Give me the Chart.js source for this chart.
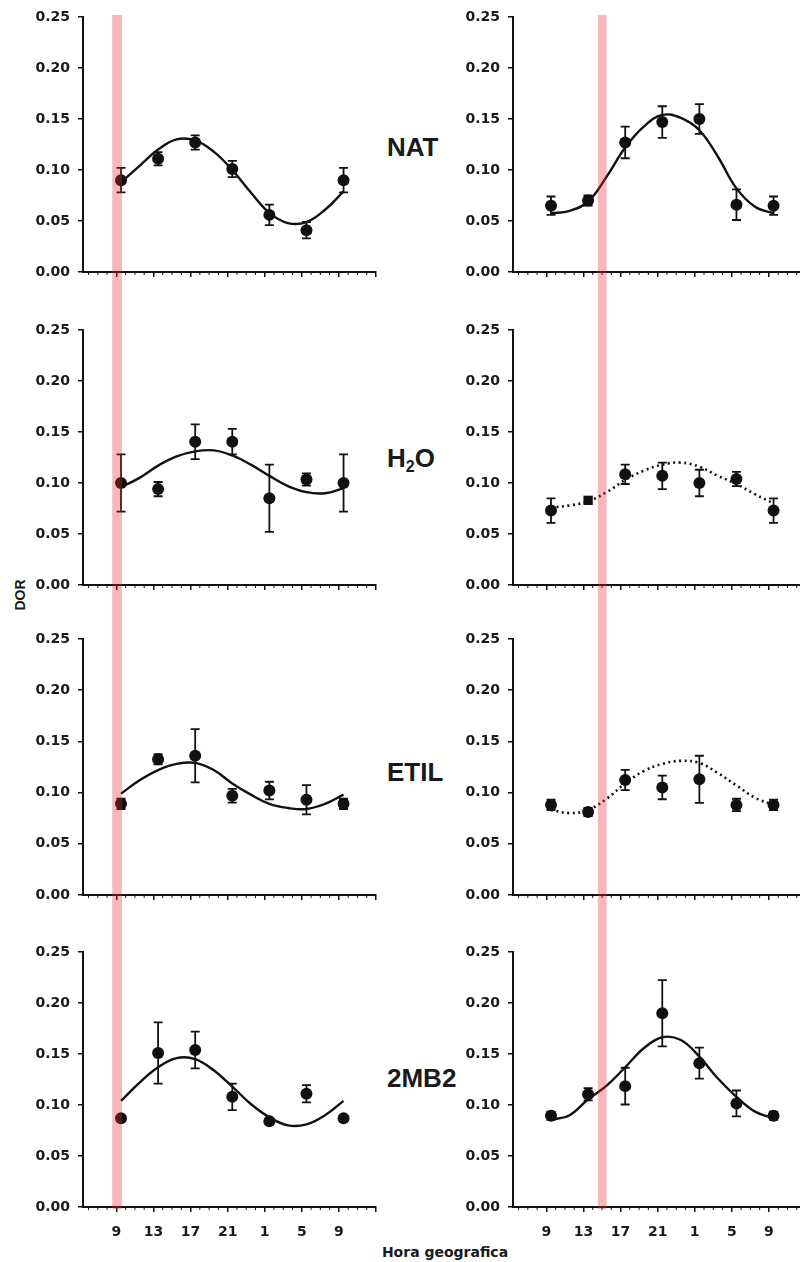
<!DOCTYPE html>
<html>
<head>
<meta charset="utf-8">
<script src="https://cdn.jsdelivr.net/npm/chart.js@4.4.1/dist/chart.umd.min.js"></script>
<style>
  html, body { margin: 0; padding: 0; background: #fff; width: 800px; height: 1262px; overflow: hidden; }
  #page { position: relative; width: 800px; height: 1262px; overflow: hidden; }
  .panel { position: absolute; }
  .name { position: absolute; left: 387px; font-family: "Liberation Sans", Arial, sans-serif; font-weight: bold;
          font-size: 26px; line-height: 1; color: #1a1a1a; transform: translateY(-50%); white-space: nowrap; }
  .name sub { font-size: 16px; vertical-align: -5px; }
  .axis-title { position: absolute; font-weight: bold; color: #1a1a1a; white-space: nowrap; line-height: 1; }
</style>
</head>
<body>
<div id="page">
  <div class="axis-title" style="left:20px;top:595px;font-family:'Liberation Sans',Arial,sans-serif;font-size:14px;transform:translate(-50%,-50%) rotate(-90deg);">DOR</div>
  <div class="axis-title" style="left:445px;top:1252px;font-family:'DejaVu Sans',sans-serif;font-size:14px;transform:translate(-50%,-50%);">Hora geografica</div>
  <div class="name" style="top:147px;">NAT</div>
  <div class="name" style="top:460px;">H<sub>2</sub>O</div>
  <div class="name" style="top:772px;">ETIL</div>
  <div class="name" style="top:1078px;">2MB2</div>
</div>
<script>
// sampling hours (9.5 = 9h, 25.5 = 1h next day ...)
const hours = [9.5, 13.5, 17.5, 21.5, 25.5, 29.5, 33.5];
const fitHours = [9.5, 11.5, 13.5, 15.5, 17.5, 19.5, 21.5, 23.5, 25.5, 27.5, 29.5, 31.5, 33.5];
const tickHours = [9, 13, 17, 21, 25, 29, 33, 37];
const tickLabels = ["9", "13", "17", "21", "1", "5", "9", ""];
const yTicks = [0, 0.05, 0.10, 0.15, 0.20, 0.25];
const leftBand = [8.55, 9.6];
const rightBand = [14.55, 15.5];

// NAT
const natLeftMean = [0.090, 0.111, 0.127, 0.101, 0.056, 0.041, 0.090];
const natLeftErr = [0.012, 0.0065, 0.007, 0.008, 0.010, 0.008, 0.012];
const natLeftFit = [0.088, 0.104, 0.120, 0.130, 0.129, 0.118, 0.100, 0.078, 0.058, 0.048, 0.049, 0.061, 0.079];
const natRightMean = [0.065, 0.070, 0.127, 0.147, 0.150, 0.066, 0.065];
const natRightErr = [0.009, 0.005, 0.0155, 0.0155, 0.0145, 0.015, 0.009];
const natRightFit = [0.0575, 0.060, 0.069, 0.0935, 0.122, 0.1425, 0.154, 0.151, 0.139, 0.113, 0.082, 0.064, 0.0575];

// H2O
const h2oLeftMean = [0.100, 0.094, 0.1405, 0.1405, 0.085, 0.1035, 0.100];
const h2oLeftErr = [0.028, 0.007, 0.017, 0.0125, 0.033, 0.006, 0.028];
const h2oLeftFit = [0.096, 0.105, 0.117, 0.126, 0.131, 0.132, 0.127, 0.118, 0.107, 0.097, 0.091, 0.090, 0.095];
const h2oRightMean = [0.073, 0.083, 0.1085, 0.107, 0.100, 0.104, 0.073];
const h2oRightErr = [0.012, 0, 0.0095, 0.013, 0.013, 0.007, 0.012];
const h2oRightFit = [0.076, 0.078, 0.082, 0.091, 0.103, 0.112, 0.118, 0.120, 0.116, 0.107, 0.099, 0.089, 0.080];

// ETIL
const etilLeftMean = [0.089, 0.1325, 0.136, 0.097, 0.102, 0.093, 0.089];
const etilLeftErr = [0.005, 0.005, 0.026, 0.0067, 0.0086, 0.0143, 0.005];
const etilLeftFit = [0.099, 0.112, 0.122, 0.128, 0.129, 0.122, 0.109, 0.098, 0.089, 0.085, 0.084, 0.089, 0.098];
const etilRightMean = [0.088, 0.081, 0.1123, 0.105, 0.113, 0.088, 0.088];
const etilRightErr = [0.005, 0.004, 0.0098, 0.0115, 0.023, 0.006, 0.005];
const etilRightFit = [0.083, 0.080, 0.083, 0.094, 0.109, 0.121, 0.128, 0.131, 0.129, 0.119, 0.107, 0.095, 0.088];

// 2MB2
const mb2LeftMean = [0.087, 0.151, 0.154, 0.108, 0.084, 0.111, 0.087];
const mb2LeftErr = [0, 0.030, 0.018, 0.013, 0, 0.0085, 0];
const mb2LeftFit = [0.104, 0.122, 0.137, 0.146, 0.145, 0.134, 0.118, 0.101, 0.088, 0.080, 0.081, 0.090, 0.104];
const mb2RightMean = [0.0895, 0.1105, 0.1185, 0.190, 0.141, 0.1015, 0.0895];
const mb2RightErr = [0.004, 0.006, 0.018, 0.0325, 0.0152, 0.0127, 0.004];
const mb2RightFit = [0.0855, 0.090, 0.1056, 0.119, 0.137, 0.1556, 0.1664, 0.1637, 0.1474, 0.126, 0.108, 0.0935, 0.087];

const INK = "#111";
const tickFont = { family: "DejaVu Sans", size: 14, weight: "bold" };

// layout of the 4 x 2 grid (chart area: x 83..376 and 513..806)
const colLeft = [0, 430];
const canvasWidth = 388;
const canvasTop = [0, 301, 612, 923];
const canvasHeight = [301, 311, 311, 339];
const plotTop = [17, 330, 639, 952];
const plotBottom = [272, 585, 895, 1207];

const panels = [
  { row: 0, col: 0, mean: natLeftMean, err: natLeftErr, fit: natLeftFit },
  { row: 0, col: 1, mean: natRightMean, err: natRightErr, fit: natRightFit },
  { row: 1, col: 0, mean: h2oLeftMean, err: h2oLeftErr, fit: h2oLeftFit },
  { row: 1, col: 1, mean: h2oRightMean, err: h2oRightErr, fit: h2oRightFit, dotted: true, square: 1 },
  { row: 2, col: 0, mean: etilLeftMean, err: etilLeftErr, fit: etilLeftFit },
  { row: 2, col: 1, mean: etilRightMean, err: etilRightErr, fit: etilRightFit, dotted: true },
  { row: 3, col: 0, mean: mb2LeftMean, err: mb2LeftErr, fit: mb2LeftFit },
  { row: 3, col: 1, mean: mb2RightMean, err: mb2RightErr, fit: mb2RightFit }
];

const errorBars = {
  id: "errorBars",
  afterDatasetsDraw(chart) {
    const ds = chart.data.datasets[0];
    const xs = chart.scales.x;
    const ys = chart.scales.y;
    const ctx = chart.ctx;
    ctx.save();
    ctx.strokeStyle = INK;
    ctx.lineWidth = 1.8;
    ds.data.forEach((p, i) => {
      const e = ds.errs[i];
      if (!e) return;
      const x = xs.getPixelForValue(p.x);
      const y1 = ys.getPixelForValue(p.y - e);
      const y2 = ys.getPixelForValue(p.y + e);
      ctx.beginPath();
      ctx.moveTo(x, y1); ctx.lineTo(x, y2);
      ctx.moveTo(x - 4.5, y1); ctx.lineTo(x + 4.5, y1);
      ctx.moveTo(x - 4.5, y2); ctx.lineTo(x + 4.5, y2);
      ctx.stroke();
    });
    ctx.restore();
  }
};

const axisExtras = {
  id: "axisExtras",
  afterDraw(chart, args, opts) {
    const xs = chart.scales.x;
    const area = chart.chartArea;
    const ctx = chart.ctx;
    ctx.save();
    // minor ticks every hour
    ctx.strokeStyle = INK;
    ctx.lineWidth = 1;
    for (let h = 6; h <= 36; h++) {
      if (tickHours.includes(h)) continue;
      const x = xs.getPixelForValue(h);
      ctx.beginPath();
      ctx.moveTo(x, area.bottom);
      ctx.lineTo(x, area.bottom + 3);
      ctx.stroke();
    }
    // pink band running through the whole column
    const x0 = xs.getPixelForValue(opts.band[0]);
    const x1 = xs.getPixelForValue(opts.band[1]);
    const top = opts.first ? area.top - 2 : 0;
    const bottom = opts.last ? area.bottom + 2 : chart.height;
    ctx.fillStyle = "rgba(235,40,50,0.33)";
    ctx.fillRect(x0, top, x1 - x0, bottom - top);
    ctx.restore();
  }
};

function makePanel(p) {
  const page = document.getElementById("page");
  const box = document.createElement("div");
  box.className = "panel";
  box.style.left = colLeft[p.col] + "px";
  box.style.top = canvasTop[p.row] + "px";
  const canvas = document.createElement("canvas");
  canvas.width = canvasWidth;
  canvas.height = canvasHeight[p.row];
  box.appendChild(canvas);
  page.appendChild(box);

  const showLabels = p.row === 3;
  const xAxisHeight = canvasTop[p.row] + canvasHeight[p.row] - plotBottom[p.row];

  new Chart(canvas, {
    data: {
      datasets: [
        {
          type: "scatter",
          data: hours.map((h, i) => ({ x: h, y: p.mean[i] })),
          errs: p.err,
          backgroundColor: INK,
          borderWidth: 0,
          pointStyle: hours.map((h, i) => i === p.square ? "rect" : "circle"),
          pointRadius: hours.map((h, i) => i === p.square ? 6.6 : 6)
        },
        {
          type: "line",
          data: fitHours.map((h, i) => ({ x: h, y: p.fit[i] })),
          borderColor: INK,
          borderWidth: p.dotted ? 2.6 : 2.4,
          borderDash: p.dotted ? [2, 3.5] : [],
          pointRadius: 0,
          tension: 0.4,
          fill: false
        }
      ]
    },
    options: {
      responsive: false,
      animation: false,
      events: [],
      // the x scale reserves ticks.padding (12px) on its right end, which sets the right edge
      layout: { padding: { top: plotTop[p.row] - canvasTop[p.row], right: 0, left: 0, bottom: 0 } },
      plugins: {
        legend: { display: false },
        tooltip: { enabled: false },
        axisExtras: { band: p.col === 0 ? leftBand : rightBand, first: p.row === 0, last: p.row === 3 }
      },
      scales: {
        x: {
          type: "linear",
          min: 5.4,
          max: 37,
          afterBuildTicks: s => { s.ticks = tickHours.map(v => ({ value: v })); },
          afterFit: s => { s.height = xAxisHeight; },
          ticks: {
            autoSkip: false,
            maxRotation: 0,
            padding: 12,
            color: "#1a1a1a",
            font: tickFont,
            callback: (v, i) => showLabels ? tickLabels[i] : ""
          },
          grid: { drawOnChartArea: false, drawTicks: true, tickLength: 5, color: INK, lineWidth: 1.5 },
          border: { display: true, color: INK, width: 2 }
        },
        y: {
          type: "linear",
          min: 0,
          max: 0.25,
          afterBuildTicks: s => { s.ticks = yTicks.map(v => ({ value: v })); },
          afterFit: s => { s.width = 83; },
          ticks: {
            padding: 8,
            color: "#1a1a1a",
            font: tickFont,
            callback: v => Number(v).toFixed(2)
          },
          grid: { drawOnChartArea: false, drawTicks: true, tickLength: 5, color: INK, lineWidth: 1.5 },
          border: { display: true, color: INK, width: 2 }
        }
      }
    },
    plugins: [errorBars, axisExtras]
  });
}

panels.forEach(makePanel);
</script>
</body>
</html>
